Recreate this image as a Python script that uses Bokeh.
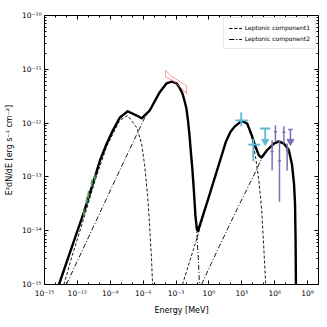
from bokeh.plotting import figure
from bokeh.models import (LogAxis, FixedTicker, CustomJSTickFormatter, Legend,
                          LegendItem, Range1d)
from bokeh.embed import file_html
from bokeh.resources import INLINE

# ---- model curves (log10 E [MeV], log10 E^2dN/dE [erg s^-1 cm^-2])
total_logE = [-13.68, -12.5, -11.41, -10.41, -9.95, -9.32, -8.77, -8.14, -7.41, -6.59,
              -6.14, -5.41, -4.50, -3.86, -3.41, -2.95, -2.68, -2.41, -2.23, -2.05,
              -1.91, -1.77, -1.64, -1.50, -1.36, -1.23, -1.09, -1.0, -0.14, 0.68,
              1.14, 1.56, 1.95, 2.32, 2.68, 3.0, 3.5, 3.95, 4.25, 4.56,
              4.80, 5.32, 5.93, 6.38, 6.84, 7.29, 7.59, 7.77, 7.86, 7.91, 7.94]
total_logF = [-15.0, -14.30, -13.66, -13.01, -12.70, -12.38, -12.14, -11.90, -11.78, -11.86,
              -11.91, -11.77, -11.43, -11.26, -11.23, -11.26, -11.34, -11.45, -11.58, -11.73,
              -11.95, -12.23, -12.55, -12.88, -13.29, -13.72, -13.98, -14.01, -13.46, -12.92,
              -12.62, -12.34, -12.17, -12.07, -12.01, -11.96, -12.01, -12.25, -12.44, -12.60,
              -12.64, -12.50, -12.38, -12.34, -12.38, -12.50, -12.78, -13.14, -13.51, -14.18, -15.0]

comp1_sync_logE = [-13.23, -12.5, -11.41, -10.41, -9.32, -8.14, -7.41, -6.59, -6.14, -5.86,
                   -5.59, -5.41, -5.23, -5.14]
comp1_sync_logF = [-15.0, -14.48, -13.77, -13.08, -12.43, -11.95, -11.86, -12.08, -12.38, -12.79,
                   -13.35, -13.90, -14.55, -15.0]

comp1_ic_logE = [-2.41, -1.0, -0.14, 0.68, 1.14, 1.56, 1.95, 2.32, 2.68, 3.0,
                 3.5, 3.95, 4.25, 4.56, 4.82, 5.0, 5.18]
comp1_ic_logF = [-15.0, -14.08, -13.46, -12.92, -12.62, -12.34, -12.17, -12.07, -12.01, -11.96,
                 -12.03, -12.29, -12.62, -13.07, -13.62, -14.28, -15.0]

comp2_sync_logE = [-13.0, -8.14, -5.86, -5.41, -4.50, -3.86, -3.41, -2.95, -2.68, -2.41,
                   -2.23, -2.05, -1.91, -1.77, -1.64, -1.50, -1.36, -1.23, -1.09, -0.97, -0.86]
comp2_sync_logF = [-15.0, -12.88, -11.90, -11.78, -11.43, -11.26, -11.23, -11.26, -11.34, -11.45,
                   -11.58, -11.73, -11.95, -12.23, -12.55, -12.88, -13.29, -13.72, -14.10, -14.5, -15.0]

comp2_ic_logE = [-0.68, 0.95, 2.59, 4.32, 4.80, 5.32, 5.93, 6.38, 6.84, 7.29,
                 7.59, 7.77, 7.86, 7.91, 7.94]
comp2_ic_logF = [-15.0, -14.29, -13.59, -12.88, -12.66, -12.52, -12.39, -12.34, -12.38, -12.50,
                 -12.78, -13.14, -13.51, -14.18, -15.0]

# ---- data points
green_logE = [-11.41, -11.14, -11.0, -10.68, -10.41]
green_logF = [-13.66, -13.44, -13.33, -13.12, -13.01]
green_dx = 0.12
green_dy = 0.07

cyan_logE = [2.95, 4.05]
cyan_logE_lo = [2.41, 3.59]
cyan_logE_hi = [3.59, 4.68]
cyan_logF = [-11.95, -12.40]
cyan_logF_lo = [-12.06, -12.71]
cyan_logF_hi = [-11.80, -12.29]
cyan_ul_logE = [5.14]
cyan_ul_logE_lo = [4.68]
cyan_ul_logE_hi = [5.59]
cyan_ul_logF = [-12.10]
cyan_ul_tip = [-12.34]

purple_logE = [5.77, 6.07, 6.44, 6.84, 7.14]
purple_logF = [-12.53, -12.16, -12.70, -12.17, -12.51]
purple_logF_lo = [-12.88, -12.34, -13.46, -12.38, -12.88]
purple_logF_hi = [-12.32, -12.04, -12.32, -12.06, -12.38]
purple_dx = 0.14
purple_ul_logE = [7.44]
purple_ul_logF = [-12.12]
purple_ul_tip = [-12.34]

bowtie_logE = [-3.95, -3.41, -2.77, -2.05, -2.05, -2.77, -3.41, -3.95]
bowtie_logF = [-11.02, -11.13, -11.21, -11.30, -11.45, -11.30, -11.19, -11.15]

x_major_exp = [-15, -12, -9, -6, -3, 0, 3, 6, 9]
x_minor_exp = list(range(-15, 11))
y_major_exp = [-15, -14, -13, -12, -11, -10]


def pw(a):
    return [10.0 ** v for v in a]


FONT = "DejaVu Sans"

p = figure(x_axis_type="log", y_axis_type="log",
           x_range=Range1d(1e-15, 1e10), y_range=Range1d(1e-15, 1e-10),
           frame_width=274, frame_height=269,
           min_border_left=44, min_border_top=15, min_border_right=9, min_border_bottom=43,
           output_backend="svg", toolbar_location=None)
p.xgrid.visible = False
p.ygrid.visible = False
p.outline_line_color = "black"
p.outline_line_width = 1
p.background_fill_color = "white"
p.border_fill_color = "white"

xt = FixedTicker(ticks=pw(x_major_exp), minor_ticks=pw(x_minor_exp))
y_minor = [k * 10.0 ** e for e in y_major_exp[:-1] for k in range(2, 10)]
yt = FixedTicker(ticks=pw(y_major_exp), minor_ticks=y_minor)

fmt = CustomJSTickFormatter(code="""
const s = {"-":"\u207b","0":"\u2070","1":"\u00b9","2":"\u00b2","3":"\u00b3","4":"\u2074",
           "5":"\u2075","6":"\u2076","7":"\u2077","8":"\u2078","9":"\u2079"};
const e = Math.round(Math.log10(tick));
let out = "10";
for (const c of String(e)) out += s[c];
return out;
""")
blank = CustomJSTickFormatter(code="return '';")


def style_axis(ax, ticker, formatter):
    ax.ticker = ticker
    ax.formatter = formatter
    ax.major_tick_in = 4
    ax.major_tick_out = 0
    ax.minor_tick_in = 2
    ax.minor_tick_out = 0
    ax.axis_line_color = "black"
    ax.major_tick_line_color = "black"
    ax.minor_tick_line_color = "black"
    ax.major_label_text_font = FONT
    ax.major_label_text_font_size = "7.5px"
    ax.major_label_text_color = "black"
    ax.axis_label_text_font = FONT
    ax.axis_label_text_font_style = "normal"
    ax.axis_label_text_font_size = "8px"
    ax.axis_label_text_color = "black"


style_axis(p.xaxis[0], xt, fmt)
style_axis(p.yaxis[0], yt, fmt)
p.xaxis[0].axis_label = "Energy [MeV]"
p.xaxis[0].axis_label_standoff = 5
p.xaxis[0].major_label_standoff = 4
p.yaxis[0].axis_label = "E\u00b2dN/dE [erg s\u207b\u00b9 cm\u207b\u00b2]"
p.yaxis[0].axis_label_standoff = 5
p.yaxis[0].major_label_standoff = 3

top = LogAxis()
style_axis(top, xt, blank)
top.major_label_standoff = 0
right = LogAxis()
style_axis(right, yt, blank)
right.major_label_standoff = 0
p.add_layout(top, "above")
p.add_layout(right, "right")

# model curves
r1a = p.line(pw(comp1_sync_logE), pw(comp1_sync_logF), line_color="black", line_width=0.9,
             line_dash="3 2")
r1b = p.line(pw(comp1_ic_logE), pw(comp1_ic_logF), line_color="black", line_width=0.9,
             line_dash="3 2")
r2a = p.line(pw(comp2_sync_logE), pw(comp2_sync_logF), line_color="black", line_width=0.9,
             line_dash="5 2 1 2")
r2b = p.line(pw(comp2_ic_logE), pw(comp2_ic_logF), line_color="black", line_width=0.9,
             line_dash="5 2 1 2")
p.line(pw(total_logE), pw(total_logF), line_color="black", line_width=2.4,
       line_join="round")

# bow tie
p.patch(pw(bowtie_logE), pw(bowtie_logF), fill_alpha=0, line_color="#ff7070",
        line_width=0.9, line_alpha=0.8)

# green points
GREEN = "#4f9e5f"
p.segment([10 ** (e - green_dx) for e in green_logE], pw(green_logF),
          [10 ** (e + green_dx) for e in green_logE], pw(green_logF),
          line_color=GREEN, line_width=1.3)
p.segment(pw(green_logE), [10 ** (f - green_dy) for f in green_logF],
          pw(green_logE), [10 ** (f + green_dy) for f in green_logF],
          line_color=GREEN, line_width=1.3)

# cyan points
CYAN = "#5cb8d6"
p.segment(pw(cyan_logE_lo), pw(cyan_logF), pw(cyan_logE_hi), pw(cyan_logF),
          line_color=CYAN, line_width=1.8)
p.segment(pw(cyan_logE), pw(cyan_logF_lo), pw(cyan_logE), pw(cyan_logF_hi),
          line_color=CYAN, line_width=1.8)
p.segment(pw(cyan_ul_logE_lo), pw(cyan_ul_logF), pw(cyan_ul_logE_hi), pw(cyan_ul_logF),
          line_color=CYAN, line_width=1.8)
p.segment(pw(cyan_ul_logE), pw(cyan_ul_logF), pw(cyan_ul_logE), pw(cyan_ul_tip),
          line_color=CYAN, line_width=1.8)
p.scatter(pw(cyan_ul_logE), pw(cyan_ul_tip), marker="inverted_triangle", size=7,
          fill_color=CYAN, line_color=CYAN)

# purple points
PURPLE = "#7b70b8"
p.segment([10 ** (e - purple_dx) for e in purple_logE], pw(purple_logF),
          [10 ** (e + purple_dx) for e in purple_logE], pw(purple_logF),
          line_color=PURPLE, line_width=1.5)
p.segment(pw(purple_logE), pw(purple_logF_lo), pw(purple_logE), pw(purple_logF_hi),
          line_color=PURPLE, line_width=1.5)
p.segment([10 ** (e - purple_dx * 1.4) for e in purple_ul_logE], pw(purple_ul_logF),
          [10 ** (e + purple_dx * 1.4) for e in purple_ul_logE], pw(purple_ul_logF),
          line_color=PURPLE, line_width=1.5)
p.segment(pw(purple_ul_logE), pw(purple_ul_logF), pw(purple_ul_logE), pw(purple_ul_tip),
          line_color=PURPLE, line_width=1.5)
p.scatter(pw(purple_ul_logE), pw(purple_ul_tip), marker="inverted_triangle", size=7,
          fill_color=PURPLE, line_color=PURPLE)

legend = Legend(items=[LegendItem(label="Leptonic component1", renderers=[r1a, r1b]),
                       LegendItem(label="Leptonic component2", renderers=[r2a, r2b])],
                location="top_right")
legend.label_text_font = FONT
legend.label_text_font_size = "6px"
legend.label_text_color = "black"
legend.glyph_width = 13
legend.glyph_height = 8
legend.label_height = 9
legend.label_standoff = 3
legend.spacing = 2
legend.padding = 5
legend.margin = 2
legend.border_line_color = "#cccccc"
legend.border_line_width = 1
legend.background_fill_color = "white"
legend.background_fill_alpha = 1.0
p.add_layout(legend)

open("out.html", "w").write(file_html(p, INLINE))
